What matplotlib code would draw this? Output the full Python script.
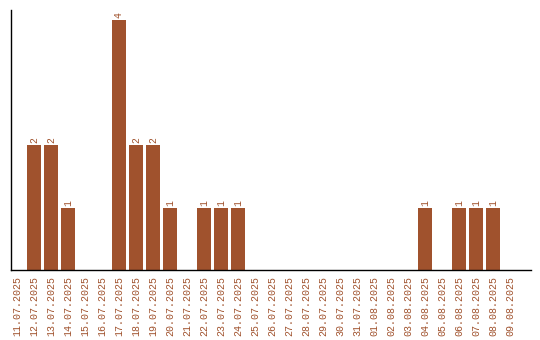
import matplotlib
matplotlib.use('Agg')
import matplotlib.pyplot as plt

dates = ['11.07.2025', '12.07.2025', '13.07.2025', '14.07.2025', '15.07.2025',
         '16.07.2025', '17.07.2025', '18.07.2025', '19.07.2025', '20.07.2025',
         '21.07.2025', '22.07.2025', '23.07.2025', '24.07.2025', '25.07.2025',
         '26.07.2025', '27.07.2025', '28.07.2025', '29.07.2025', '30.07.2025',
         '31.07.2025', '01.08.2025', '02.08.2025', '03.08.2025', '04.08.2025',
         '05.08.2025', '06.08.2025', '07.08.2025', '08.08.2025', '09.08.2025']
counts = [0, 2, 2, 1, 0, 0, 4, 2, 2, 1, 0, 1, 1, 1, 0,
          0, 0, 0, 0, 0, 0, 0, 0, 0, 1, 0, 1, 1, 1, 0]

color = '#A0522D'
plt.rcParams['font.family'] = ['Liberation Mono', 'DejaVu Sans Mono']

fig = plt.figure(figsize=(5.4, 3.4), dpi=100)
ax = fig.add_axes([10.5 / 540, 70 / 340, 520 / 540, 260 / 340])

x = list(range(len(dates)))
ax.bar(x, counts, width=14 / 17, color=color)

for xi, c in zip(x, counts):
    if c > 0:
        ax.text(xi, c + 0.03, str(c), rotation=90, ha='center', va='bottom',
                color=color, fontsize=7)

ax.set_xlim(-0.38, 30.2)
ax.set_ylim(0, 4.16)
ax.set_xticks(x)
ax.set_xticklabels(dates, rotation=90, color=color, fontsize=7.2)
ax.tick_params(axis='x', length=0, pad=4)
ax.set_yticks([])

for side in ['top', 'right']:
    ax.spines[side].set_visible(False)
ax.spines['left'].set_linewidth(1)
ax.spines['bottom'].set_linewidth(1)

fig.savefig('out.png', dpi=100)
